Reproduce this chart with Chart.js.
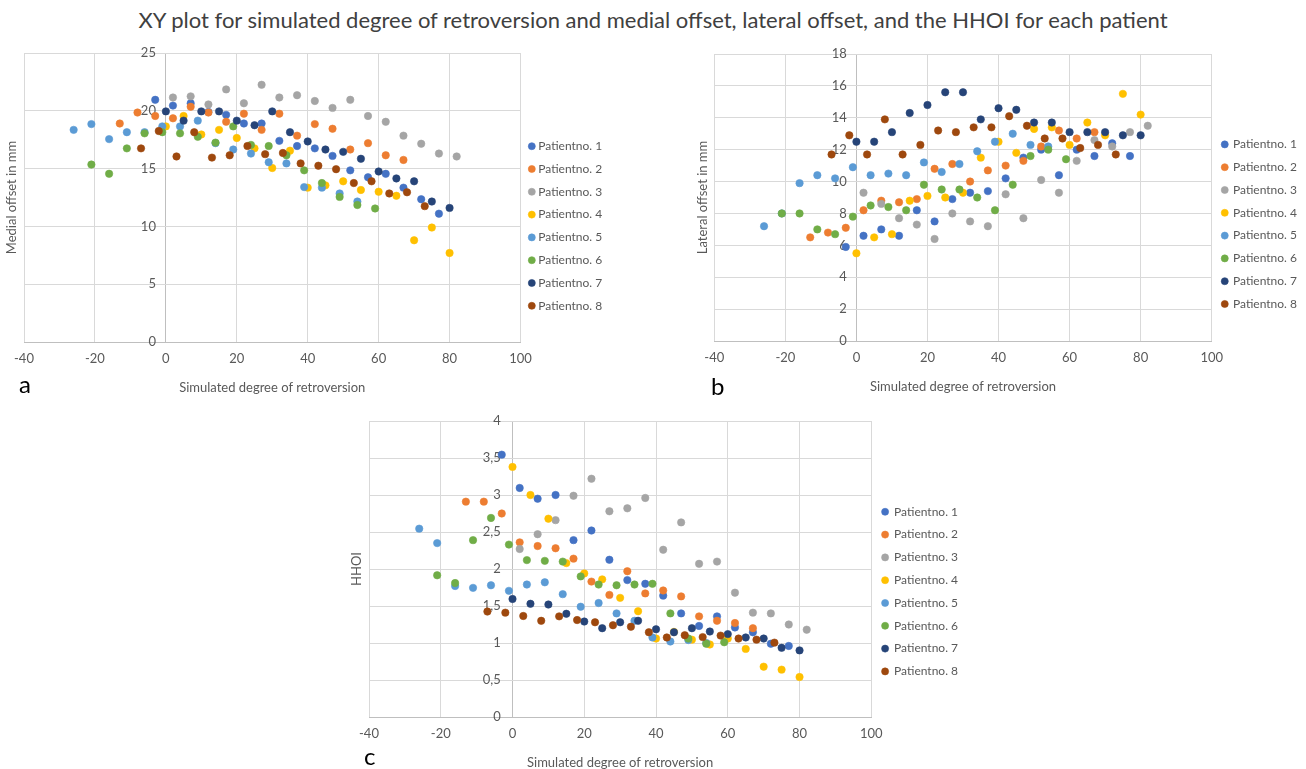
<!DOCTYPE html>
<html>
<head>
<meta charset="utf-8">
<script src="https://cdn.jsdelivr.net/npm/chart.js@4.4.1/dist/chart.umd.min.js"></script>
<style>
  body { margin: 0; width: 1306px; height: 769px; overflow: hidden; background: #fff; position: relative; font-family: Lato, sans-serif; }
  #title { position: absolute; top: 7px; left: 0; width: 1306px; text-align: center; font-size: 22px; line-height: 26px; color: #404040; }
  .panel { position: absolute; }
  .tag { position: absolute; font-size: 24px; line-height: 1; color: #000; }
</style>
</head>
<body>
<div id="title">XY plot for simulated degree of retroversion and medial offset, lateral offset, and the HHOI for each patient</div>
<canvas id="chartA" class="panel" width="690" height="360" style="left:0;top:40px"></canvas>
<canvas id="chartB" class="panel" width="640" height="360" style="left:690px;top:40px"></canvas>
<canvas id="chartC" class="panel" width="650" height="370" style="left:345px;top:405px"></canvas>
<div class="tag" style="left:19px;top:372px">a</div>
<div class="tag" style="left:711px;top:374px">b</div>
<div class="tag" style="left:364px;top:744px">c</div>
<script>
const patients = ["Patientno. 1", "Patientno. 2", "Patientno. 3", "Patientno. 4",
                  "Patientno. 5", "Patientno. 6", "Patientno. 7", "Patientno. 8"];
const colors = ["#4472C4", "#ED7D31", "#A5A5A5", "#FFC000", "#5B9BD5", "#70AD47", "#264478", "#9E480E"];

// simulated degree of retroversion, per patient
const retro1 = [-3, 2, 7, 12, 17, 22, 27, 32, 37, 42, 47, 52, 57, 62, 67, 72, 77];
const retro2 = [-13, -8, -3, 2, 7, 12, 17, 22, 27, 32, 37, 42, 47, 52, 57, 62, 67];
const retro3 = [2, 7, 12, 17, 22, 27, 32, 37, 42, 47, 52, 57, 62, 67, 72, 77, 82];
const retro4 = [0, 5, 10, 15, 20, 25, 30, 35, 40, 45, 50, 55, 60, 65, 70, 75, 80];
const retro5 = [-26, -21, -16, -11, -6, -1, 4, 9, 14, 19, 24, 29, 34, 39, 44, 49, 54];
const retro6 = [-21, -16, -11, -6, -1, 4, 9, 14, 19, 24, 29, 34, 39, 44, 49, 54, 59];
const retro7 = [0, 5, 10, 15, 20, 25, 30, 35, 40, 45, 50, 55, 60, 65, 70, 75, 80];
const retro8 = [-7, -2, 3, 8, 13, 18, 23, 28, 33, 38, 43, 48, 53, 58, 63, 68, 73];

// a: medial offset (mm)
const medial1 = [20.95, 20.45, 20.65, 19.9, 19.65, 18.9, 18.9, 17.4, 16.95, 16.75, 16.1, 14.85, 14.25, 14.55, 13.35, 12.35, 11.1];
const medial2 = [18.9, 19.85, 19.55, 19.35, 20.35, 19.85, 19.05, 19.75, 18.35, 19.75, 17.85, 18.85, 18.45, 16.65, 17.2, 16.15, 15.75];
const medial3 = [21.15, 21.25, 20.55, 21.85, 20.65, 22.25, 21.15, 21.35, 20.85, 20.25, 20.95, 19.55, 19.05, 17.85, 17.15, 16.3, 16.05];
const medial4 = [18.65, 19.55, 17.95, 18.35, 17.65, 16.75, 15.05, 16.55, 13.35, 13.55, 13.9, 13.15, 13.0, 12.65, 8.8, 9.9, 7.7];
const medial5 = [18.35, 18.85, 17.55, 18.15, 18.15, 18.65, 18.65, 19.15, 17.2, 16.65, 16.3, 15.55, 15.45, 13.4, 13.35, 12.85, 12.15];
const medial6 = [15.35, 14.55, 16.75, 18.05, 18.15, 18.05, 17.75, 17.25, 18.65, 17.05, 16.95, 16.15, 14.85, 13.75, 12.55, 11.85, 11.55];
const medial7 = [19.95, 19.15, 19.95, 19.95, 19.15, 18.75, 19.95, 18.15, 17.35, 16.65, 16.45, 15.85, 14.75, 14.15, 13.9, 12.15, 11.6];
const medial8 = [16.75, 18.25, 16.05, 18.15, 15.95, 16.15, 16.95, 16.25, 16.35, 15.45, 15.25, 14.95, 13.75, 13.9, 12.85, 12.95, 11.75];

// b: lateral offset (mm)
const lateral1 = [5.9, 6.6, 7.0, 6.6, 8.2, 7.5, 8.9, 9.3, 9.4, 10.2, 11.5, 12.0, 10.4, 12.0, 11.6, 12.4, 11.6];
const lateral2 = [6.5, 6.8, 7.1, 8.2, 8.8, 8.7, 8.9, 10.8, 11.1, 10.0, 10.7, 11.0, 11.3, 12.2, 13.2, 12.7, 13.1];
const lateral3 = [9.3, 8.6, 7.7, 7.3, 6.4, 8.0, 7.5, 7.2, 9.2, 7.7, 10.1, 9.3, 11.3, 12.6, 12.2, 13.1, 13.5];
const lateral4 = [5.5, 6.5, 6.7, 8.8, 9.1, 9.0, 9.3, 11.5, 12.5, 11.8, 13.3, 13.4, 12.3, 13.7, 12.9, 15.5, 14.2];
const lateral5 = [7.2, 8.0, 9.9, 10.4, 10.2, 10.9, 10.4, 10.5, 10.4, 11.2, 10.6, 11.1, 11.9, 12.5, 13.0, 12.3, 12.2];
const lateral6 = [8.0, 8.0, 7.0, 6.7, 7.8, 8.5, 8.4, 8.2, 9.8, 9.5, 9.5, 9.0, 8.2, 9.8, 11.6, 12.0, 11.4];
const lateral7 = [12.5, 12.5, 13.1, 14.3, 14.8, 15.6, 15.6, 13.9, 14.6, 14.5, 13.7, 13.7, 13.1, 13.1, 13.1, 12.9, 12.9];
const lateral8 = [11.7, 12.9, 11.7, 13.9, 11.7, 12.3, 13.2, 13.1, 13.4, 13.4, 14.1, 13.5, 12.7, 12.7, 12.1, 12.3, 11.7];

// c: HHOI
const hhoi1 = [3.545, 3.095, 2.95, 3.0, 2.39, 2.52, 2.125, 1.85, 1.80, 1.64, 1.40, 1.23, 1.36, 1.21, 1.145, 0.99, 0.96];
const hhoi2 = [2.91, 2.91, 2.75, 2.36, 2.31, 2.28, 2.14, 1.83, 1.65, 1.97, 1.67, 1.71, 1.63, 1.36, 1.30, 1.27, 1.20];
const hhoi3 = [2.27, 2.47, 2.66, 2.99, 3.22, 2.78, 2.82, 2.96, 2.26, 2.63, 2.07, 2.10, 1.68, 1.41, 1.40, 1.25, 1.18];
const hhoi4 = [3.38, 3.0, 2.68, 2.08, 1.94, 1.86, 1.61, 1.43, 1.06, 1.15, 1.045, 0.98, 1.06, 0.92, 0.68, 0.64, 0.54];
const hhoi5 = [2.545, 2.35, 1.77, 1.745, 1.78, 1.705, 1.79, 1.82, 1.66, 1.49, 1.54, 1.40, 1.30, 1.075, 1.02, 1.04, 1.0];
const hhoi6 = [1.915, 1.81, 2.39, 2.69, 2.33, 2.12, 2.11, 2.10, 1.90, 1.79, 1.78, 1.79, 1.80, 1.40, 1.06, 0.99, 1.01];
const hhoi7 = [1.595, 1.53, 1.52, 1.395, 1.29, 1.20, 1.28, 1.30, 1.185, 1.145, 1.20, 1.155, 1.12, 1.075, 1.06, 0.935, 0.90];
const hhoi8 = [1.425, 1.41, 1.365, 1.30, 1.36, 1.31, 1.28, 1.24, 1.22, 1.145, 1.075, 1.105, 1.08, 1.10, 1.06, 1.045, 1.005];

// tick labels
const xTicks = [-40, -20, 0, 20, 40, 60, 80, 100];
const medialTicks = [0, 5, 10, 15, 20, 25];
const lateralTicks = [0, 2, 4, 6, 8, 10, 12, 14, 16, 18];
const hhoiTicks = [0, 0.5, 1, 1.5, 2, 2.5, 3, 3.5, 4];

const retro = [retro1, retro2, retro3, retro4, retro5, retro6, retro7, retro8];

Chart.defaults.font.family = "Lato, sans-serif";
Chart.defaults.font.size = 13;
Chart.defaults.color = "#595959";

function series(values) {
    return patients.map((name, i) => ({
        label: name,
        data: retro[i].map((x, k) => ({ x: x, y: values[i][k] })),
        backgroundColor: colors[i],
        borderColor: colors[i],
        borderWidth: 0.6,
        pointRadius: 3.7,
        pointHoverRadius: 3.7,
        xAxisID: "x",
        yAxisID: "y",
        order: patients.length - i   // later patients drawn on top, like Excel
    }));
}

function plot(id, values, yTicks, yTitle, opt) {
    const chart = new Chart(document.getElementById(id), {
        type: "scatter",
        data: { datasets: series(values) },
        options: {
            responsive: false,
            animation: false,
            layout: { padding: opt.pad },
            plugins: {
                tooltip: { enabled: false },
                legend: {
                    position: "right",
                    align: "start",
                    fullSize: false,
                    title: { display: true, text: "", padding: { top: opt.legendTop, bottom: opt.legendTop } },
                    labels: {
                        usePointStyle: true,
                        pointStyle: "circle",
                        boxWidth: opt.box,
                        boxHeight: 5,
                        padding: 10.8,
                        color: "#595959",
                        font: { size: 12 },
                        sort: (a, b) => a.datasetIndex - b.datasetIndex
                    }
                }
            },
            scales: {
                x: {
                    type: "linear",
                    position: "bottom",
                    min: xTicks[0],
                    max: xTicks[xTicks.length - 1],
                    afterBuildTicks: s => { s.ticks = xTicks.map(v => ({ value: v })); },
                    grid: { color: c => (c.tick && c.tick.value === 0) ? "#bfbfbf" : "#d9d9d9", drawTicks: false },
                    border: { color: "#bfbfbf" },
                    ticks: { padding: 9, maxRotation: 0 },
                    title: { display: true, text: "Simulated degree of retroversion" }
                },
                y: {
                    type: "linear",
                    position: { x: opt.yAt },
                    min: yTicks[0],
                    max: yTicks[yTicks.length - 1],
                    afterBuildTicks: s => { s.ticks = yTicks.map(v => ({ value: v })); },
                    grid: { color: "#d9d9d9", drawTicks: false },
                    border: { display: false },
                    ticks: { callback: v => String(v).replace(".", ",") }
                },
                // carries only the axis title, at the far left
                yt: {
                    type: "linear",
                    position: "left",
                    grid: { display: false, drawTicks: false },
                    border: { display: false },
                    ticks: { display: false },
                    title: { display: true, text: yTitle }
                }
            }
        }
    });
    // line the plot's right edge up with the reference, whatever the legend width
    chart.config.options.layout.padding.right += chart.chartArea.right - opt.right;
    chart.update();
    return chart;
}

plot("chartA", [medial1, medial2, medial3, medial4, medial5, medial6, medial7, medial8],
     medialTicks, "Medial offset in mm",
     { yAt: -2.8, right: 520.5, box: 1, pad: { left: 0.4, top: 13, right: 60, bottom: 0.8 }, legendTop: 30.4 });

plot("chartB", [lateral1, lateral2, lateral3, lateral4, lateral5, lateral6, lateral7, lateral8],
     lateralTicks, "Lateral offset in mm",
     { yAt: -2.7, right: 521.7, box: 4.5, pad: { left: 0.7, top: 14, right: 20, bottom: 1.8 }, legendTop: 29 });

plot("chartC", [hhoi1, hhoi2, hhoi3, hhoi4, hhoi5, hhoi6, hhoi7, hhoi8],
     hhoiTicks, "HHOI",
     { yAt: -3.3, right: 526.3, box: 6, pad: { left: 0.4, top: 16, right: 30, bottom: 0.8 }, legendTop: 29.2 });
</script>
</body>
</html>
